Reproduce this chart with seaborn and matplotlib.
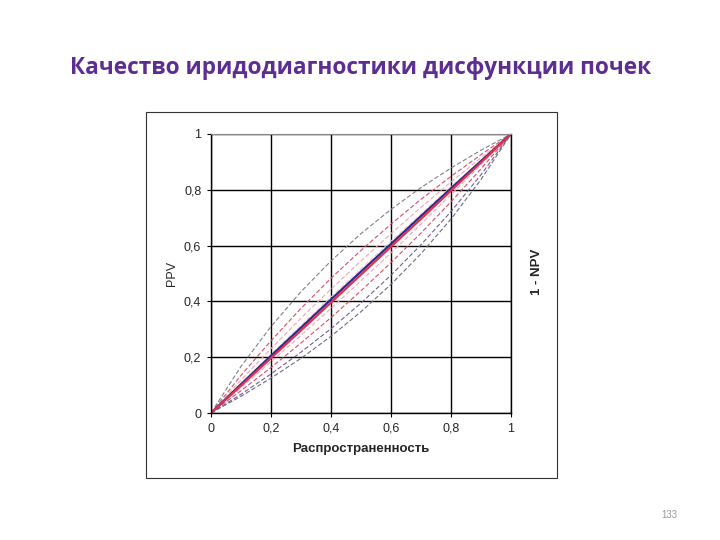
import numpy as np
import pandas as pd
import matplotlib
matplotlib.use("Agg")
import matplotlib.pyplot as plt
import seaborn as sns

# prevalence grid
prevalence = [0.0, 0.1, 0.2, 0.3, 0.4, 0.5, 0.6, 0.7, 0.8, 0.9, 1.0]

# PPV curves (above the diagonal)
ppv_grey = [0.0, 0.167, 0.310, 0.435, 0.545, 0.643, 0.730, 0.808, 0.878, 0.942, 1.0]
ppv_red = [0.0, 0.135, 0.259, 0.375, 0.483, 0.583, 0.677, 0.766, 0.848, 0.926, 1.0]
ppv_pink = [0.0, 0.118, 0.231, 0.340, 0.444, 0.545, 0.643, 0.737, 0.828, 0.915, 1.0]
ppv_light = [0.0, 0.106, 0.211, 0.314, 0.416, 0.517, 0.616, 0.714, 0.811, 0.906, 1.0]

# diagonal (thick) lines
diag_blue = [0.0, 0.103, 0.205, 0.306, 0.407, 0.507, 0.606, 0.706, 0.805, 0.903, 1.0]
diag_red = [0.0, 0.098, 0.197, 0.296, 0.396, 0.496, 0.596, 0.696, 0.797, 0.898, 1.0]

# 1 - NPV curves (below the diagonal)
npv_pink = [0.0, 0.091, 0.184, 0.278, 0.375, 0.474, 0.574, 0.677, 0.783, 0.890, 1.0]
npv_red = [0.0, 0.080, 0.163, 0.251, 0.342, 0.438, 0.539, 0.645, 0.757, 0.875, 1.0]
npv_purple = [0.0, 0.067, 0.140, 0.218, 0.302, 0.394, 0.494, 0.603, 0.722, 0.854, 1.0]
npv_grey = [0.0, 0.060, 0.125, 0.196, 0.275, 0.363, 0.461, 0.571, 0.695, 0.837, 1.0]

ticks = [0, 0.2, 0.4, 0.6, 0.8, 1]
tick_labels = ["0", "0,2", "0,4", "0,6", "0,8", "1"]

sns.set_style("white")
plt.rcParams["font.family"] = ["Liberation Sans", "DejaVu Sans"]

fig = plt.figure(figsize=(7.2, 5.4), dpi=100)

# slide title
fig.text(361 / 720, 1 - 68 / 540, "Качество иридодиагностики дисфункции почек",
         ha="center", va="center", fontsize=16.3, fontweight="bold",
         color="#5E2D91", family=["Open Sans", "DejaVu Sans"])
fig.text(669 / 720, 1 - 515 / 540, "133", ha="center", va="center",
         fontsize=7, color="#9A9A9A")

# frame around the chart
frame = plt.Rectangle((146 / 720, 1 - 478 / 540), 411 / 720, 366 / 540,
                      transform=fig.transFigure, fill=False,
                      edgecolor="#333333", linewidth=0.8)
fig.patches.append(frame)

ax = fig.add_axes([211 / 720, 1 - 413 / 540, 300 / 720, 279 / 540])

dash = (0, (4, 2))
series = [
    (ppv_grey, "#80808C", 0.8, dash),
    (ppv_red, "#D4506A", 0.8, dash),
    (ppv_pink, "#F2A6B6", 0.8, dash),
    (ppv_light, "#F6C4CE", 0.8, dash),
    (npv_pink, "#F2A6B6", 0.8, dash),
    (npv_red, "#D4506A", 0.8, dash),
    (npv_purple, "#7A5A9A", 0.8, dash),
    (npv_grey, "#6E6E7E", 0.8, dash),
    (diag_blue, "#2A2A8A", 1.6, "-"),
    (diag_red, "#E2304E", 1.6, "-"),
]
for ys, color, lw, ls in series:
    sns.lineplot(x=prevalence, y=ys, ax=ax, color=color, linewidth=lw,
                 linestyle=ls, legend=False)

ax.set_xlim(0, 1)
ax.set_ylim(0, 1)
ax.set_xticks(ticks)
ax.set_xticklabels(tick_labels)
ax.set_yticks(ticks)
ax.set_yticklabels(tick_labels)
ax.grid(True, color="black", linewidth=1.0)
ax.set_axisbelow(True)
for side in ["left", "bottom", "right"]:
    ax.spines[side].set_color("black")
    ax.spines[side].set_linewidth(1.0)
ax.spines["top"].set_color("#888888")
ax.tick_params(axis="both", length=3, width=0.8, color="black",
               labelsize=9, pad=4, direction="out", bottom=True, left=True)

ax.set_ylabel("PPV", fontsize=9, labelpad=4)
ax.set_xlabel("Распространенность", fontsize=9.5, fontweight="bold", labelpad=6)
fig.text(537 / 720, 1 - 272 / 540, "1 - NPV", rotation=90, ha="center",
         va="center", fontsize=9.5, fontweight="bold")

fig.savefig("out.png", dpi=100)
